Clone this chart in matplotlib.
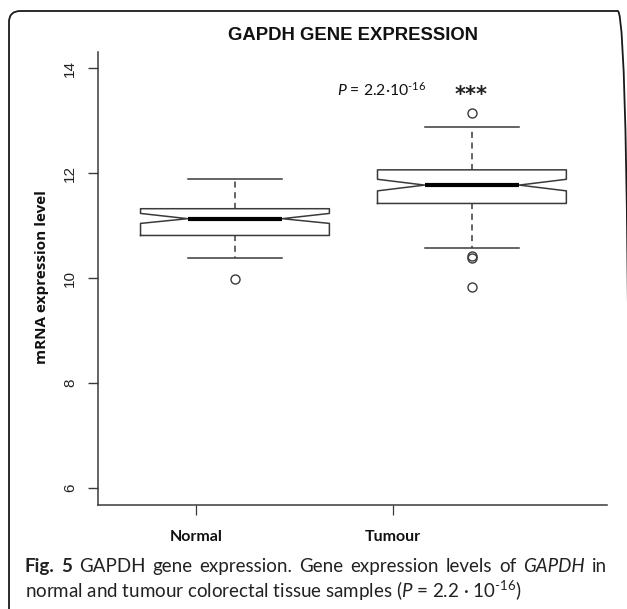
import matplotlib
matplotlib.use("Agg")
import matplotlib.pyplot as plt
from matplotlib.patches import FancyBboxPatch

# ---- data ----
groups = ["Normal", "Tumour"]
q1 = [10.81, 11.42]
median = [11.13, 11.77]
q3 = [11.32, 12.06]
whisker_low = [10.39, 10.58]
whisker_high = [11.88, 12.88]
notch_low = [11.04, 11.66]
notch_high = [11.23, 11.88]
outliers = [[9.98], [13.14, 10.41, 10.38, 9.83]]
yticks = [6, 8, 10, 12, 14]

plt.rcParams['mathtext.fontset'] = 'custom'
plt.rcParams['mathtext.rm'] = 'Lato'
plt.rcParams['mathtext.it'] = 'Lato:italic'
plt.rcParams['mathtext.bf'] = 'Lato:bold'

W, H = 627, 609
fig = plt.figure(figsize=(W / 100, H / 100), dpi=100)

def fx(px):
    return px / W

def fy(py):
    return 1 - py / H

ax = fig.add_axes([fx(98), fy(505), fx(607) - fx(98), fy(52) - fy(505)])

stats = []
for i in range(len(groups)):
    stats.append(dict(label=groups[i], q1=q1[i], med=median[i], q3=q3[i],
                      whislo=whisker_low[i], whishi=whisker_high[i],
                      cilo=notch_low[i], cihi=notch_high[i],
                      fliers=outliers[i]))

lc = '#3a3a3a'
ax.bxp(stats, positions=[1, 2], widths=0.797, shownotches=True,
       boxprops=dict(color=lc, linewidth=1.1),
       medianprops=dict(color='black', linewidth=3.0, solid_capstyle='butt'),
       whiskerprops=dict(color=lc, linewidth=1.1, linestyle=(0, (4, 3))),
       capprops=dict(color=lc, linewidth=1.1),
       flierprops=dict(marker='o', markerfacecolor='none', markeredgecolor=lc,
                       markersize=6.5, markeredgewidth=1.0))

ax.set_xlim(0.422, 2.570)
ax.set_ylim(5.676, 14.305)
ax.set_yticks(yticks)
ax.set_yticklabels([str(t) for t in yticks], rotation=90, va='center',
                   fontfamily='Liberation Sans', fontsize=11, color='#222222')
ax.tick_params(axis='y', length=7.2, width=1.0, color=lc, pad=8)

# x tick positions (layout) offset from the boxes as in the original figure
ax.set_xticks([0.835, 1.667])
ax.set_xticklabels(groups, fontfamily='Lato', fontweight='bold',
                   fontsize=11.5, color='#111111')
ax.tick_params(axis='x', length=7.0, width=0.9, color=lc, pad=11)

for s in ['top', 'right']:
    ax.spines[s].set_visible(False)
for s in ['left', 'bottom']:
    ax.spines[s].set_color(lc)
    ax.spines[s].set_linewidth(1.1)

ax.set_ylabel("mRNA expression level", fontfamily='Open Sans',
              fontweight='bold', fontsize=11, color='#111111')
ax.yaxis.set_label_coords(fx(38) - fx(98), (fy(277) - fy(505)) / (fy(52) - fy(505)),
                          transform=ax.transAxes)

# title
fig.text(fx(353), fy(35), "GAPDH GENE EXPRESSION", ha='center', va='center',
         fontfamily='Liberation Sans', fontweight='bold', fontsize=13.3,
         color='#111111')

# annotation
fig.text(fx(337), fy(90), r"$\mathit{P}$ = 2.2·10$^{\text{-16}}$",
         ha='left', va='center', fontfamily='Lato', fontsize=11.3,
         color='#111111')
fig.text(fx(471), fy(95), "***", ha='center', va='center',
         fontfamily='DejaVu Sans', fontweight='bold', fontsize=15,
         color='#222222')

# caption: first line justified between x=25 and x=607
cap_size = 13.5
cap_color = '#222222'
words = [("Fig.", 'bold', 'normal'), ("5", 'bold', 'normal'),
         ("GAPDH", 'normal', 'normal'), ("gene", 'normal', 'normal'),
         ("expression.", 'normal', 'normal'), ("Gene", 'normal', 'normal'),
         ("expression", 'normal', 'normal'), ("levels", 'normal', 'normal'),
         ("of", 'normal', 'normal'), ("GAPDH", 'normal', 'italic'),
         ("in", 'normal', 'normal')]
renderer = fig.canvas.get_renderer()
objs = []
for w, wt, st in words:
    t = fig.text(0, fy(572), w, ha='left', va='baseline', fontfamily='Lato',
                 fontweight=wt, fontstyle=st, fontsize=cap_size, color=cap_color)
    objs.append(t)
widths = [o.get_window_extent(renderer).width for o in objs]
x0, x1 = 25, 607
gap = (x1 - x0 - sum(widths)) / (len(words) - 1)
x = x0
for o, wdt in zip(objs, widths):
    o.set_x(fx(x))
    x += wdt + gap

fig.text(fx(25), fy(598),
         r"normal and tumour colorectal tissue samples ($\mathit{P}$ = 2.2 · 10$^{\text{-16}}$)",
         ha='left', va='baseline', fontfamily='Lato', fontsize=cap_size,
         color=cap_color)

# rounded frame (partially outside the canvas)
frame = FancyBboxPatch((fx(9), fy(640)), fx(629) - fx(9), fy(11) - fy(640),
                       boxstyle="round,pad=0,rounding_size=0.018",
                       transform=fig.transFigure, fill=False,
                       edgecolor='#1a1a1a', linewidth=1.3, clip_on=False)
fig.patches.append(frame)

fig.savefig("out.png", dpi=100)
